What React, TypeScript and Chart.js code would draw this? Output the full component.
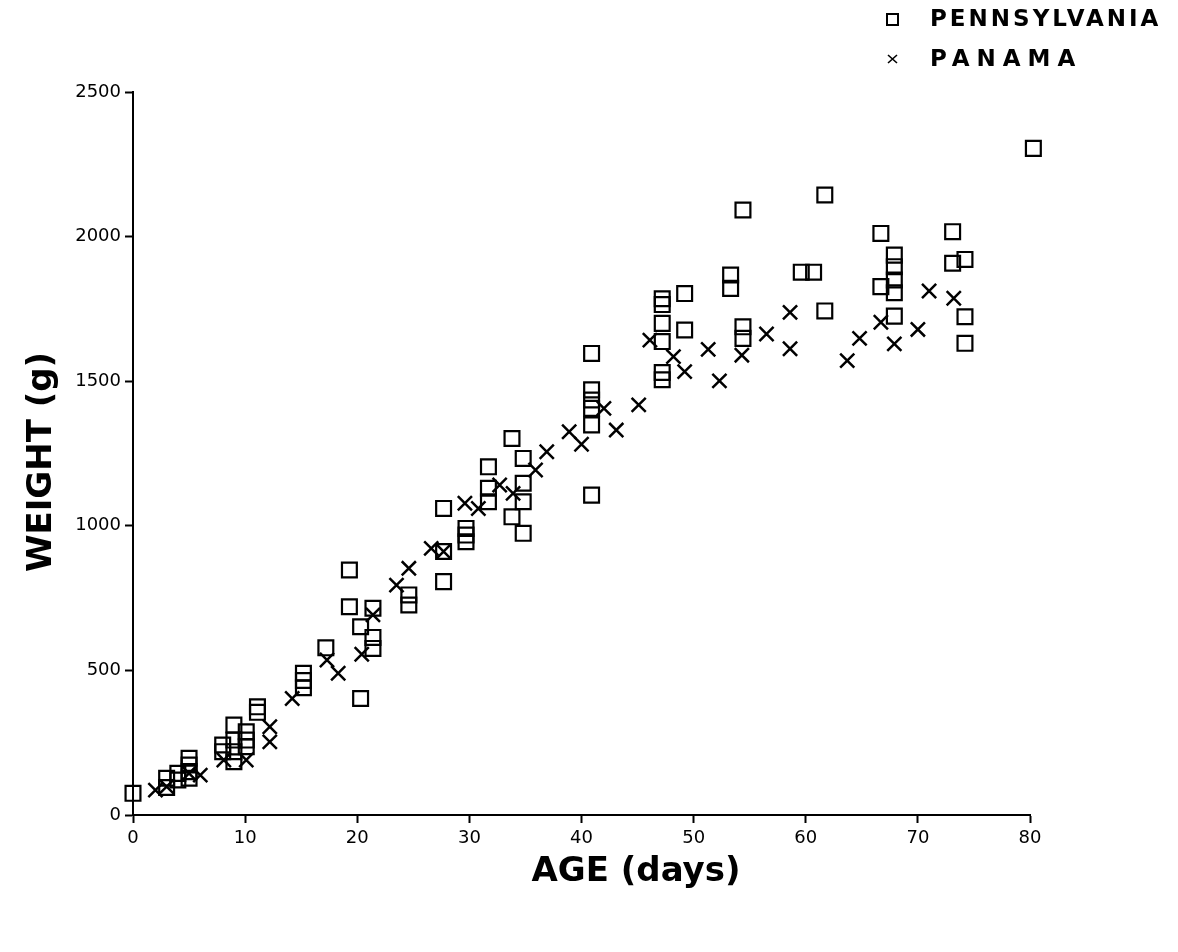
import React, { useEffect, useRef } from 'react';
import { Chart, registerables } from 'chart.js';

Chart.register(...registerables);

const FONT = "'DejaVu Sans', 'Liberation Sans', sans-serif";

// Axis definitions
const xTickStep = 10;
const xMin = 0;
const xMax = 80;
const yTickStep = 500;
const yMin = 0;
const yMax = 2500;

const seriesNames = ['PENNSYLVANIA', 'PANAMA'];
const xTitle = 'AGE (days)';
const yTitle = 'WEIGHT (g)';

// Pennsylvania (open squares)
const pennAge = [
  0, 3, 3, 4, 4, 5, 5, 5, 5, 8, 8, 9, 9, 9, 9, 10.1, 10.1, 10.1, 11.1, 11.1,
  15.2, 15.2, 15.2, 17.2, 19.3, 19.3, 20.3, 20.3, 21.4, 21.4, 21.4, 24.6, 24.6,
  27.7, 27.7, 27.7, 29.7, 29.7, 29.7, 31.7, 31.7, 31.7, 33.8, 33.8, 34.8, 34.8,
  34.8, 34.8, 40.9, 40.9, 40.9, 40.9, 40.9, 40.9, 47.2, 47.2, 47.2, 47.2, 47.2,
  47.2, 49.2, 49.2, 53.3, 53.3, 54.4, 54.4, 54.4, 59.6, 60.7, 61.7, 61.7, 66.7,
  66.7, 67.9, 67.9, 67.9, 67.9, 67.9, 73.1, 73.1, 74.2, 74.2, 74.2, 80.3, 80.3,
  80.3, 81.4, 81.4, 81.4,
];
const pennWeight = [
  75, 127, 95, 144, 121, 196, 173, 150, 127, 242, 219, 311, 259, 219, 184, 288,
  259, 236, 374, 355, 490, 465, 440, 578, 847, 720, 651, 403, 715, 614, 576, 761,
  726, 1060, 911, 807, 991, 968, 945, 1204, 1130, 1083, 1302, 1031, 1233, 1147,
  1083, 974, 1596, 1470, 1435, 1406, 1349, 1106, 1785, 1765, 1700, 1637, 1530,
  1505, 1803, 1677, 1867, 1821, 2092, 1688, 1648, 1877, 1877, 2144, 1743, 2011,
  1827, 1936, 1896, 1850, 1806, 1725, 2017, 1908, 1921, 1723, 1631, 2305, 1925,
  1848, 1994, 1930, 1882,
];

// Panama (crosses)
const panamaAge = [
  2.0, 3.0, 5.0, 6.0, 8.1, 10.1, 12.2, 12.2, 14.2, 17.3, 18.3, 20.4, 21.4, 23.5,
  24.6, 26.6, 27.7, 29.6, 30.8, 32.7, 33.9, 35.9, 36.9, 38.9, 40.0, 42.0, 43.1,
  45.1, 46.1, 48.2, 49.2, 51.3, 52.3, 54.3, 56.5, 58.6, 58.6, 63.7, 64.8, 66.7,
  67.9, 70.0, 71.0, 73.2, 81.4, 82.5,
];
const panamaWeight = [
  86, 98, 144, 138, 190, 190, 305, 253, 403, 536, 490, 556, 692, 795, 853, 922,
  911, 1078, 1060, 1141, 1112, 1193, 1256, 1325, 1282, 1406, 1331, 1418, 1642,
  1585, 1533, 1610, 1501, 1590, 1663, 1738, 1612, 1571, 1648, 1704, 1629, 1679,
  1812, 1787, 1758, 1671,
];

export default function App() {
  const ref = useRef<HTMLCanvasElement | null>(null);

  useEffect(() => {
    const canvas = ref.current;
    if (!canvas) return;

    const overlay = {
      id: 'overlay',
      afterDraw(chart: any) {
        const ctx = chart.ctx as CanvasRenderingContext2D;
        ctx.save();
        ctx.fillStyle = '#000';
        ctx.strokeStyle = '#000';

        // Y axis title
        ctx.font = `bold 34px ${FONT}`;
        ctx.textAlign = 'center';
        ctx.textBaseline = 'middle';
        ctx.save();
        ctx.translate(42, 462);
        ctx.rotate(-Math.PI / 2);
        ctx.fillText(yTitle, 0, 0);
        ctx.restore();

        // X axis title
        ctx.fillText(xTitle, 636, 872);

        // Legend
        ctx.textAlign = 'left';
        ctx.font = `bold 23px ${FONT}`;
        ctx.lineWidth = 2;
        ctx.strokeRect(887, 14, 11, 11);
        (ctx as any).letterSpacing = '3px';
        ctx.fillText(seriesNames[0], 930, 20);
        ctx.lineWidth = 1.6;
        ctx.beginPath();
        ctx.moveTo(888, 55);
        ctx.lineTo(897, 63);
        ctx.moveTo(897, 55);
        ctx.lineTo(888, 63);
        ctx.stroke();
        (ctx as any).letterSpacing = '7px';
        ctx.fillText(seriesNames[1], 930, 60);
        (ctx as any).letterSpacing = '0px';
        ctx.restore();
      },
    };

    const tickFont = { family: FONT, size: 18 };

    const chart = new Chart(canvas, {
      type: 'scatter',
      data: {
        datasets: [
          {
            label: seriesNames[0],
            data: pennAge.map((x, i) => ({ x, y: pennWeight[i] })),
            pointStyle: 'rect',
            pointRadius: 10.5,
            pointBorderWidth: 2.2,
            borderColor: '#000',
            backgroundColor: 'rgba(0,0,0,0)',
            clip: false as any,
          },
          {
            label: seriesNames[1],
            data: panamaAge.map((x, i) => ({ x, y: panamaWeight[i] })),
            pointStyle: 'crossRot',
            pointRadius: 10,
            pointBorderWidth: 2.5,
            borderColor: '#000',
            backgroundColor: '#000',
            clip: false as any,
          },
        ],
      },
      options: {
        responsive: false,
        animation: false,
        devicePixelRatio: 1,
        events: [],
        layout: { padding: { left: 0, top: 92, right: 148, bottom: 0 } },
        plugins: {
          legend: { display: false },
          tooltip: { enabled: false },
          title: { display: false },
        },
        scales: {
          x: {
            type: 'linear',
            min: xMin,
            max: xMax,
            ticks: {
              stepSize: xTickStep,
              color: '#000',
              font: tickFont,
              padding: 5,
              maxRotation: 0,
              callback: (v: any) => String(v),
            },
            grid: {
              drawOnChartArea: false,
              drawTicks: true,
              tickLength: 8,
              tickColor: '#000',
              tickWidth: 2,
            },
            border: { display: true, color: '#000', width: 2 },
            afterFit: (s: any) => {
              s.height = 137;
            },
          },
          y: {
            type: 'linear',
            min: yMin,
            max: yMax,
            ticks: {
              stepSize: yTickStep,
              color: '#000',
              font: tickFont,
              padding: 4,
              callback: (v: any) => String(v),
            },
            grid: {
              drawOnChartArea: false,
              drawTicks: true,
              tickLength: 8,
              tickColor: '#000',
              tickWidth: 2,
            },
            border: { display: true, color: '#000', width: 2 },
            afterFit: (s: any) => {
              s.width = 133;
            },
          },
        },
      },
      plugins: [overlay],
    });

    return () => chart.destroy();
  }, []);

  return (
    <div
      style={{
        position: 'fixed',
        left: 0,
        top: 0,
        width: 1178,
        height: 952,
        background: '#fff',
      }}
    >
      <canvas ref={ref} width={1178} height={952} style={{ display: 'block' }} />
    </div>
  );
}
